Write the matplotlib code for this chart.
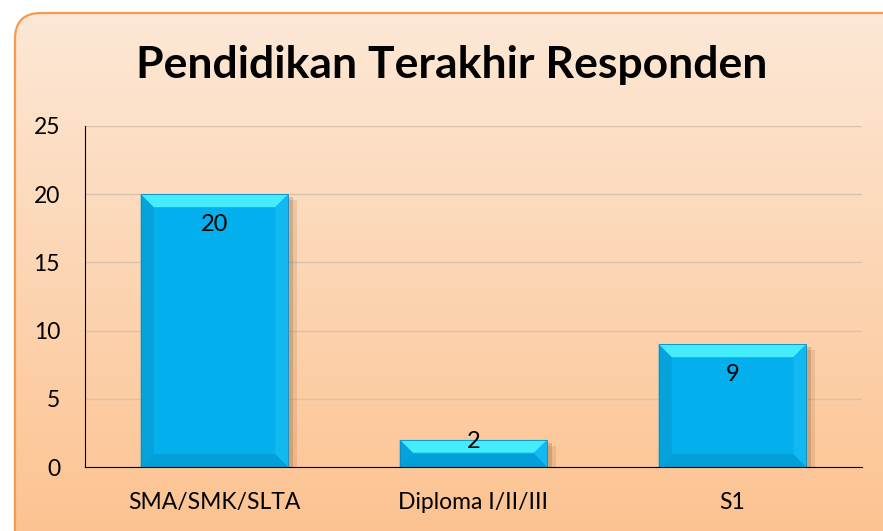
import numpy as np
import matplotlib.pyplot as plt
from matplotlib.patches import FancyBboxPatch, Polygon, Rectangle

plt.rcParams["font.family"] = ["Lato", "DejaVu Sans"]

# data
categories = ["SMA/SMK/SLTA", "Diploma I/II/III", "S1"]
values = [20, 2, 9]
yticks = [0, 5, 10, 15, 20, 25]

W, H = 883, 531
fig = plt.figure(figsize=(W / 100, H / 100), dpi=100)

# background panel with gradient and rounded border
bg = fig.add_axes([0, 0, 1, 1])
bg.set_xlim(0, W)
bg.set_ylim(H, 0)
bg.axis("off")
grad = np.linspace(0, 1, 256)[:, None]
c_top = np.array([253, 232, 214]) / 255
c_bot = np.array([252, 192, 140]) / 255
img = c_top + (c_bot - c_top) * grad[..., None]
im = bg.imshow(img, extent=[15, W + 40, H + 40, 13], aspect="auto", zorder=0)
box = FancyBboxPatch((15, 13), W + 20, H + 20, boxstyle="round,pad=0,rounding_size=26",
                     fc="none", ec="#f59a4f", lw=1.6, zorder=2)
bg.add_patch(box)
im.set_clip_path(box)

fig.text(0.511, 0.877, "Pendidikan Terakhir Responden", ha="center", va="center",
         fontsize=32, fontweight="bold", color="black")

# chart axes
ax = fig.add_axes([85 / W, 1 - 467 / H, (862 - 85) / W, (467 - 126) / H])
ax.patch.set_alpha(0)
ax.set_xlim(-0.5, 2.5)
ax.set_ylim(0, 25)

x = np.arange(len(categories))
width = 0.57
bars = ax.bar(x, values, width=width, color="#03afec", zorder=3)

# pixel scale for bevels and shadows
sx = (862 - 85) / 3.0
sy = (467 - 126) / 25.0
bev = 13

for b, v in zip(bars, values):
    x0, x1 = b.get_x(), b.get_x() + b.get_width()
    top = v
    dx = bev / sx
    dy = min(bev, v * sy / 2) / sy
    # shadow
    ax.add_patch(Rectangle((x0 + 5 / sx, 0), b.get_width(), top - 3 / sy,
                           fc="#8a5a30", alpha=0.25, lw=0, zorder=2))
    ax.add_patch(Rectangle((x0 + 9 / sx, 0), b.get_width(), top - 6 / sy,
                           fc="#8a5a30", alpha=0.15, lw=0, zorder=2))
    # top bevel
    ax.add_patch(Polygon([(x0, top), (x1, top), (x1 - dx, top - dy), (x0 + dx, top - dy)],
                         fc="#45ecfc", lw=0, zorder=4))
    # bottom bevel
    ax.add_patch(Polygon([(x0, 0), (x1, 0), (x1 - dx, dy), (x0 + dx, dy)],
                         fc="#029fd8", lw=0, zorder=4))
    # left bevel
    ax.add_patch(Polygon([(x0, 0), (x0, top), (x0 + dx, top - dy), (x0 + dx, dy)],
                         fc="#06a2dc", lw=0, zorder=4))
    # right bevel
    ax.add_patch(Polygon([(x1, 0), (x1, top), (x1 - dx, top - dy), (x1 - dx, dy)],
                         fc="#12b9f0", lw=0, zorder=4))
    # outline
    ax.add_patch(Rectangle((x0, 0), b.get_width(), top, fc="none", ec="#0a8cc0",
                           lw=0.6, zorder=5))
    off = min(30, v * sy - 25)
    ax.annotate(str(v), (b.get_x() + b.get_width() / 2, top), xytext=(0, -off * 0.72),
                textcoords="offset points", ha="center", va="center",
                fontsize=17, color="black", zorder=6)

ax.set_yticks(yticks)
ax.set_xticks(x)
ax.set_xticklabels(categories)
ax.tick_params(axis="both", length=0, labelsize=16.5, colors="black")
ax.tick_params(axis="x", pad=18)
ax.tick_params(axis="y", pad=18)
ax.grid(axis="y", color="#d8c2ae", lw=1.0, zorder=1)
ax.set_axisbelow(True)
for s in ["top", "right"]:
    ax.spines[s].set_visible(False)
ax.spines["left"].set_color("black")
ax.spines["bottom"].set_color("black")
ax.spines["left"].set_zorder(7)
ax.spines["bottom"].set_zorder(7)

fig.savefig("out.png", dpi=100)
